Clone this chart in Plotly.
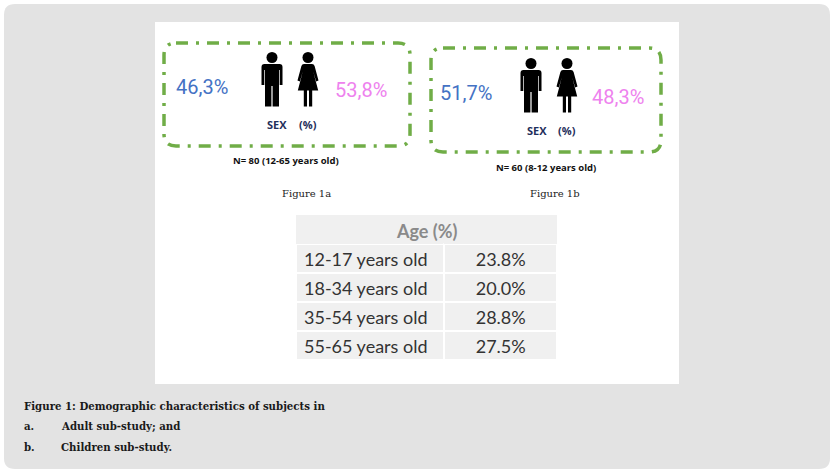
import plotly.graph_objects as go

# ---------------- data ----------------
studies = ["Figure 1a", "Figure 1b"]
sample_labels = ["N= 80 (12-65 years old)", "N= 60 (8-12 years old)"]
male_pct = [46.3, 51.7]
female_pct = [53.8, 48.3]
age_groups = ["12-17 years old", "18-34 years old", "35-54 years old", "55-65 years old"]
age_pct = [23.8, 20.0, 28.8, 27.5]
caption_title = "Figure 1: Demographic characteristics of subjects in"
caption_items = [("a.", "Adult sub-study; and"), ("b.", "Children sub-study.")]

# ---------------- layout constants (pixel space) ----------------
W, H = 834, 474
GREEN = "#70ad47"
BLUE = "#4472c4"
PINK = "#ee82ee"
NAVY = "#1f2f5c"

# box geometry per panel: (x0, y0, x1, y1)
boxes = [(164, 43, 410, 146), (431, 48, 661, 152)]
male_icon_pos = [(261, 52), (520, 58)]
female_icon_pos = [(297, 52), (556, 58)]
male_txt_pos = [(202, 87), (466, 93)]
female_txt_pos = [(361, 90), (618, 97)]
sex_pos = [(277, 124, 308), (537, 130, 567)]
n_pos = [(286, 160), (546, 167)]
fig_lbl_pos = [(306, 193), (555, 193)]


def rrect(x0, y0, x1, y1, r):
    return (f"M {x0+r},{y0} L {x1-r},{y0} Q {x1},{y0} {x1},{y0+r} "
            f"L {x1},{y1-r} Q {x1},{y1} {x1-r},{y1} L {x0+r},{y1} "
            f"Q {x0},{y1} {x0},{y1-r} L {x0},{y0+r} Q {x0},{y0} {x0+r},{y0} Z")


def poly_path(pts, ox, oy):
    s = ""
    for i, p in enumerate(pts):
        if p[0] == "Q":
            _, (ax, ay), (bx, by) = p
            s += f" Q {ox+ax},{oy+ay} {ox+bx},{oy+by}"
        else:
            s += (" M " if i == 0 else " L ") + f"{ox+p[0]},{oy+p[1]}"
    return s + " Z"


MAN = [(0.5, 15), ("Q", (0.5, 12), (3.5, 12)), (18.5, 12), ("Q", (21.5, 12), (21.5, 15)),
       (21.5, 33), (18.7, 33), (18.7, 18), (18.0, 18), (18.0, 54.5), (11.6, 54.5),
       (11.6, 34), (10.4, 34), (10.4, 54.5), (4.0, 54.5), (4.0, 18), (3.3, 18),
       (3.3, 33), (0.5, 33)]
WOMAN = [(7, 12), (15, 12), ("Q", (17, 12), (17.6, 14)), (21.5, 28.5), (19.2, 29.5),
         (16.2, 19.5), (21.2, 38.5), (15.2, 38.5), (15.2, 54.5), (12.0, 54.5),
         (12.0, 38.5), (10.0, 38.5), (10.0, 54.5), (6.8, 54.5), (6.8, 38.5),
         (0.8, 38.5), (5.8, 19.5), (2.8, 29.5), (0.5, 28.5), (4.4, 14),
         ("Q", (5, 12), (7, 12))]

shapes = []
# outer grey panel and white figure area
shapes.append(dict(type="path", path=rrect(4, 4, 830, 469, 11), fillcolor="#e3e3e3",
                   line=dict(width=0), layer="below"))
shapes.append(dict(type="rect", x0=155, y0=22, x1=679, y1=384, fillcolor="white",
                   line=dict(width=0), layer="below"))

annotations = []
for i in range(len(studies)):
    bx0, by0, bx1, by1 = boxes[i]
    shapes.append(dict(type="path", path=rrect(bx0, by0, bx1, by1, 12),
                       line=dict(color=GREEN, width=3.5, dash="12px,8px,3px,8px")))
    mx, my = male_icon_pos[i]
    shapes.append(dict(type="circle", x0=mx + 5.5, y0=my, x1=mx + 16.5, y1=my + 11,
                       fillcolor="black", line=dict(width=0)))
    shapes.append(dict(type="path", path=poly_path(MAN, mx, my), fillcolor="black",
                       line=dict(width=0)))
    fx, fy = female_icon_pos[i]
    shapes.append(dict(type="circle", x0=fx + 5.5, y0=fy, x1=fx + 16.5, y1=fy + 11,
                       fillcolor="black", line=dict(width=0)))
    shapes.append(dict(type="path", path=poly_path(WOMAN, fx, fy), fillcolor="black",
                       line=dict(width=0)))

    annotations.append(dict(x=male_txt_pos[i][0], y=male_txt_pos[i][1],
                            text=f"{male_pct[i]:.1f}%".replace(".", ","),
                            font=dict(family="Roboto", size=20, color=BLUE)))
    annotations.append(dict(x=female_txt_pos[i][0], y=female_txt_pos[i][1],
                            text=f"{female_pct[i]:.1f}%".replace(".", ","),
                            font=dict(family="Roboto", size=20, color=PINK)))
    sx, sy, px = sex_pos[i]
    annotations.append(dict(x=sx, y=sy, text="<b>SEX</b>",
                            font=dict(family="Open Sans", size=11, color=NAVY)))
    annotations.append(dict(x=px, y=sy, text="<b>(%)</b>",
                            font=dict(family="Open Sans", size=11, color=NAVY)))
    annotations.append(dict(x=n_pos[i][0], y=n_pos[i][1], text=f"<b>{sample_labels[i]}</b>",
                            font=dict(family="Open Sans", size=9.5, color="#111111")))
    annotations.append(dict(x=fig_lbl_pos[i][0], y=fig_lbl_pos[i][1], text=studies[i],
                            font=dict(family="DejaVu Serif", size=10, color="#222222")))

# table header text
annotations.append(dict(x=427, y=231, text="<b>Age (%)</b>",
                        font=dict(family="Lato", size=18, color="#8a8a8a")))

# caption
annotations.append(dict(x=22, y=406, xanchor="left", text=f"<b>{caption_title}</b>",
                        font=dict(family="DejaVu Serif", size=10.2, color="#1a1a1a")))
for j, (lab, txt) in enumerate(caption_items):
    yy = 426 + 21 * j
    annotations.append(dict(x=22, y=yy, xanchor="left", text=f"<b>{lab}</b>",
                            font=dict(family="DejaVu Serif", size=10.2, color="#1a1a1a")))
    annotations.append(dict(x=59, y=yy, xanchor="left", text=f"<b>{txt}</b>",
                            font=dict(family="DejaVu Serif", size=10.2, color="#1a1a1a")))

for a in annotations:
    a.setdefault("xanchor", "center")
    a.update(xref="x", yref="y", showarrow=False, yanchor="middle")

TBL = (296, 215, 558, 360)
table = go.Table(
    domain=dict(x=[TBL[0] / W, TBL[2] / W], y=[1 - TBL[3] / H, 1 - TBL[1] / H]),
    columnwidth=[149, 113],
    header=dict(values=["", ""], height=29, fill=dict(color="#f0f0f0"),
                line=dict(color="#f0f0f0", width=0)),
    cells=dict(values=[[g.replace(" ", "\u00a0") for g in age_groups],
                       [f"{v:.1f}%" for v in age_pct]], height=29,
               align=["left", "center"], fill=dict(color="#f0f0f0"),
               line=dict(color="white", width=2),
               font=dict(family="Lato", size=18, color="#333333")),
)

fig = go.Figure(table)
fig.update_layout(
    width=W, height=H, margin=dict(l=0, r=0, t=0, b=0),
    paper_bgcolor="white", plot_bgcolor="rgba(0,0,0,0)",
    xaxis=dict(range=[0, W], visible=False, fixedrange=True),
    yaxis=dict(range=[H, 0], visible=False, fixedrange=True),
    shapes=shapes, annotations=annotations, showlegend=False,
)
fig.write_html("out.html", config=dict(displayModeBar=False),
               post_script="document.body.style.margin='0';")
